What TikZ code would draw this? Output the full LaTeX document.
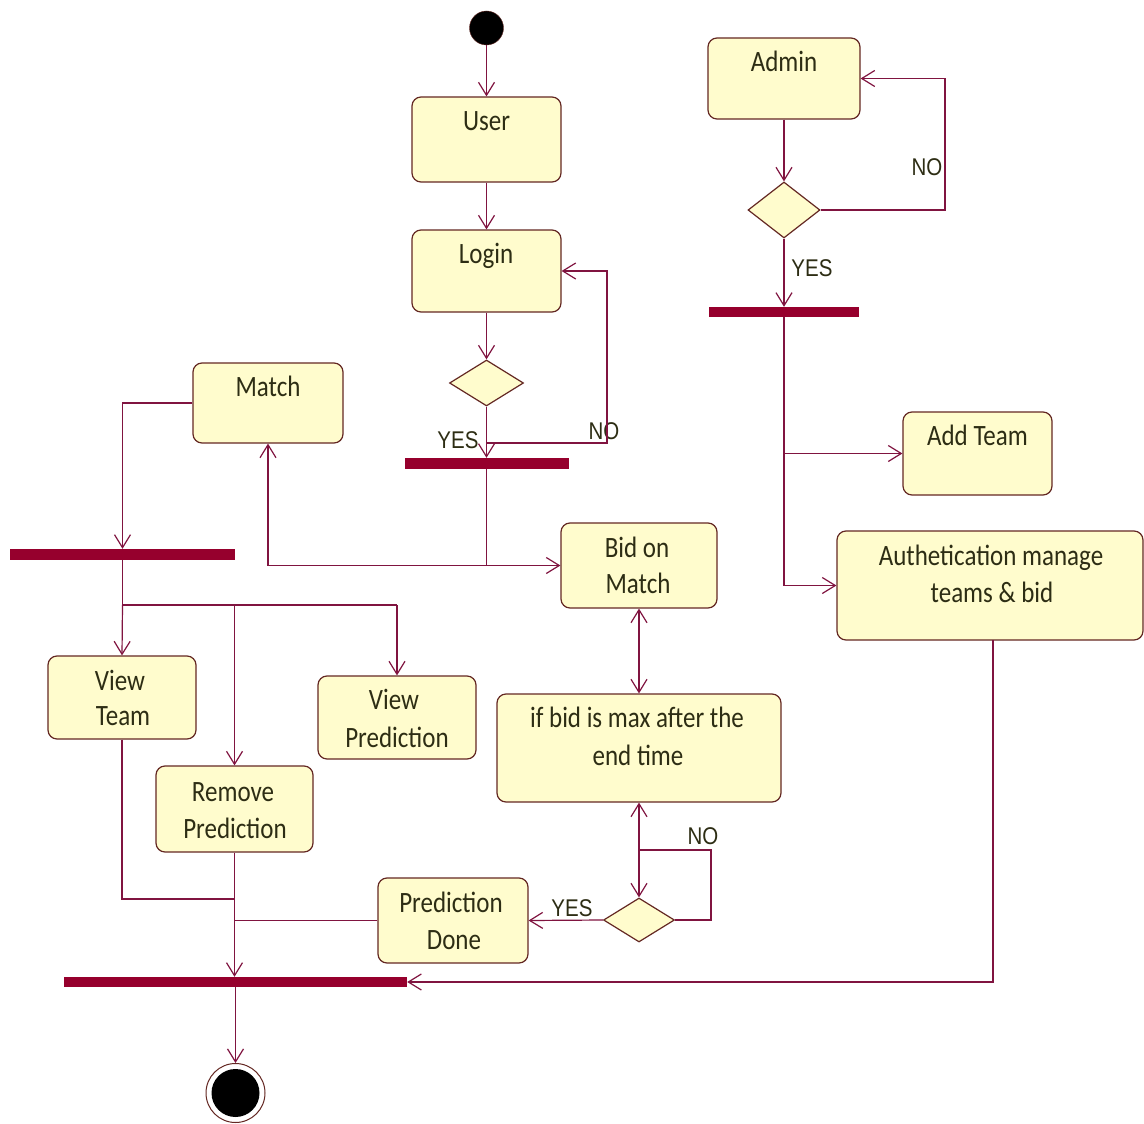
\documentclass[tikz,border=0pt]{standalone}
\usepackage{fontspec}
\usepackage{graphicx}
\setmainfont{Carlito}
\newfontfamily\labfont{Liberation Sans}
\usetikzlibrary{arrows.meta,shapes.geometric,calc}
\definecolor{lncol}{RGB}{128,20,64}
\definecolor{boxcol}{RGB}{100,40,35}
\definecolor{fillcol}{RGB}{255,252,205}
\definecolor{barcol}{RGB}{150,0,45}
\definecolor{txtcol}{RGB}{45,45,20}
\newcommand{\vst}[1]{\scalebox{1}[1.18]{#1}}
\tikzset{
  box/.style={draw=boxcol, fill=fillcol, rounded corners=9pt, line width=1.2pt, inner sep=0pt, anchor=center},
  txt/.style={anchor=base, text=txtcol, font=\fontsize{25}{30}\selectfont, inner sep=0pt},
  lab/.style={anchor=base, text=txtcol, font=\labfont\fontsize{20.5}{24}\selectfont, inner sep=0pt},
  ln/.style={draw=lncol, line width=1.2pt},
  arr/.style={ln, -{Straight Barb[length=13pt,width=16pt]}},
  darr/.style={ln, {Straight Barb[length=13pt,width=16pt]}-{Straight Barb[length=13pt,width=16pt]}},
  bar/.style={fill=barcol, draw=none, inner sep=0pt, anchor=center},
  dec/.style={diamond, draw=boxcol, fill=fillcol, line width=1.2pt, inner sep=0pt, anchor=center}
}
\begin{document}
\begin{tikzpicture}[x=1pt,y=-1pt]
\useasboundingbox (0,0) rectangle (1144,1124);
\fill[white] (0,0) rectangle (1144,1124);

% initial and final nodes
\node[circle, fill=black, draw=boxcol, inner sep=0pt, minimum size=34pt] (init) at (486.5,28) {};
\node[circle, fill=white, draw=boxcol, line width=1pt, inner sep=0pt, minimum size=59pt] (final) at (235.5,1093) {};
\node[circle, fill=black, inner sep=0pt, minimum size=48pt] (finalin) at (235.5,1093) {};

% boxes
\node[box, minimum width=149pt, minimum height=85pt] (user) at (486.5,139.5) {};
\node[box, minimum width=149pt, minimum height=82pt] (login) at (486.5,271) {};
\node[box, minimum width=152pt, minimum height=81pt] (admin) at (784,78.5) {};
\node[box, minimum width=150pt, minimum height=80pt] (match) at (268,403) {};
\node[box, minimum width=149pt, minimum height=83pt] (addteam) at (977.5,453.5) {};
\node[box, minimum width=306pt, minimum height=109pt] (auth) at (990,585.5) {};
\node[box, minimum width=156pt, minimum height=85pt] (bid) at (639,565.5) {};
\node[box, minimum width=284pt, minimum height=108pt] (ifbid) at (639,748) {};
\node[box, minimum width=148pt, minimum height=83pt] (viewteam) at (122,697.5) {};
\node[box, minimum width=158pt, minimum height=83pt] (viewpred) at (397,717.5) {};
\node[box, minimum width=157pt, minimum height=86pt] (remove) at (234.5,809) {};
\node[box, minimum width=150pt, minimum height=85pt] (preddone) at (453,920.5) {};

% texts
\node[txt] (user-t) at (486.5,130) {\vst{User}};
\node[txt] (login-t) at (486,263) {\vst{Login}};
\node[txt] (admin-t) at (784,71) {\vst{Admin}};
\node[txt] (match-t) at (268,396) {\vst{Match}};
\node[txt] (addteam-t) at (977.5,445) {\vst{Add Team}};
\node[txt] (auth-t1) at (991,565) {\vst{Authetication manage}};
\node[txt] (auth-t2) at (992,602) {\vst{teams \& bid}};
\node[txt] (bid-t1) at (637,557) {\vst{Bid on}};
\node[txt] (bid-t2) at (638,593) {\vst{Match}};
\node[txt] (ifbid-t1) at (637,727) {\vst{if bid is max after the}};
\node[txt] (ifbid-t2) at (638,765) {\vst{end time}};
\node[txt] (viewteam-t1) at (120,690) {\vst{View}};
\node[txt] (viewteam-t2) at (123,725) {\vst{Team}};
\node[txt] (viewpred-t1) at (394,709) {\vst{View}};
\node[txt] (viewpred-t2) at (397,747) {\vst{Prediction}};
\node[txt] (remove-t1) at (233,801) {\vst{Remove}};
\node[txt] (remove-t2) at (235,838) {\vst{Prediction}};
\node[txt] (preddone-t1) at (451,912) {\vst{Prediction}};
\node[txt] (preddone-t2) at (454,949) {\vst{Done}};

% decisions
\node[dec, minimum width=74pt, minimum height=46pt] (d1) at (486.5,383) {};
\node[dec, minimum width=72pt, minimum height=56pt] (d2) at (784,210) {};
\node[dec, minimum width=71pt, minimum height=44pt] (d3) at (639,920) {};

% bars
\node[bar, minimum width=164pt, minimum height=11pt] (bar1) at (486.5,463.5) {};
\node[bar, minimum width=225pt, minimum height=11pt] (bar2) at (122.5,554.5) {};
\node[bar, minimum width=343pt, minimum height=10pt] (bar3) at (235.5,982) {};
\node[bar, minimum width=150pt, minimum height=10pt] (bar4) at (784,312) {};

% labels
\node[lab] (yes1) at (458,448) {\vst{YES}};
\node[lab] (no1) at (604,439) {\vst{NO}};
\node[lab] (no2) at (927,175) {\vst{NO}};
\node[lab] (yes2) at (812,276) {\vst{YES}};
\node[lab] (no3) at (703,844) {\vst{NO}};
\node[lab] (yes3) at (572,916) {\vst{YES}};

% helper coordinates
\coordinate (noL) at (486.5,443);
\coordinate (split1) at (486.5,565.5);
\coordinate (split2) at (122.5,605);
\coordinate (noD3) at (639,850);
\coordinate (vtEnd) at (122,899);
\coordinate (join) at (235,899);
\coordinate (authOut) at (993,640);
\coordinate (authCorner) at (993,982);

% user flow
\draw[arr] (init) -- (user.north);
\draw[arr] (user.south) -- (login.north);
\draw[arr] (login.south) -- (d1.north);
\draw[arr] (d1.south) -- (d1.south |- bar1.north);
\draw[arr] (noL) -- (607,443) -- (607,271) -- (login.east);
\draw[ln] (bar1.south) -- (split1);
\draw[arr] (split1) -| (match.south);
\draw[arr] (split1) -- (bid.west);
\draw[arr] (match.west) -| (bar2.north);
\draw[ln] (bar2.south) -- (split2) -- (split2 -| viewpred.north);
\draw[arr] (split2) -- (viewteam.north);
\draw[arr] (split2 -| remove.north) -- (remove.north);
\draw[arr] (split2 -| viewpred.north) -- (viewpred.north);
\draw[darr] (bid.south) -- (ifbid.north);
\draw[darr] (ifbid.south) -- (d3.north);
\draw[ln] (noD3) -- (711,850) -- (711,920) -- (d3.east);
\draw[arr] (d3.west) -- (preddone.east);
\draw[ln] (preddone.west) -- (preddone.west -| join);
\draw[ln] (viewteam.south) -- (vtEnd) -- (join);
\draw[arr] (remove.south) -- (remove.south |- bar3.north);
\draw[arr] (authOut) -- (authCorner) -- (bar3.east);
\draw[arr] (bar3.south) -- (final.north);

% admin flow
\draw[arr] (admin.south) -- (d2.north);
\draw[arr] (d2.east) -- (945,210) -- (945,78.5) -- (admin.east);
\draw[arr] (d2.south) -- (bar4.north);
\draw[ln] (bar4.south) -- (bar4.south |- auth.west);
\draw[arr] (bar4.south |- addteam.west) -- (addteam.west);
\draw[arr] (bar4.south |- auth.west) -- (auth.west);
\end{tikzpicture}
\end{document}
